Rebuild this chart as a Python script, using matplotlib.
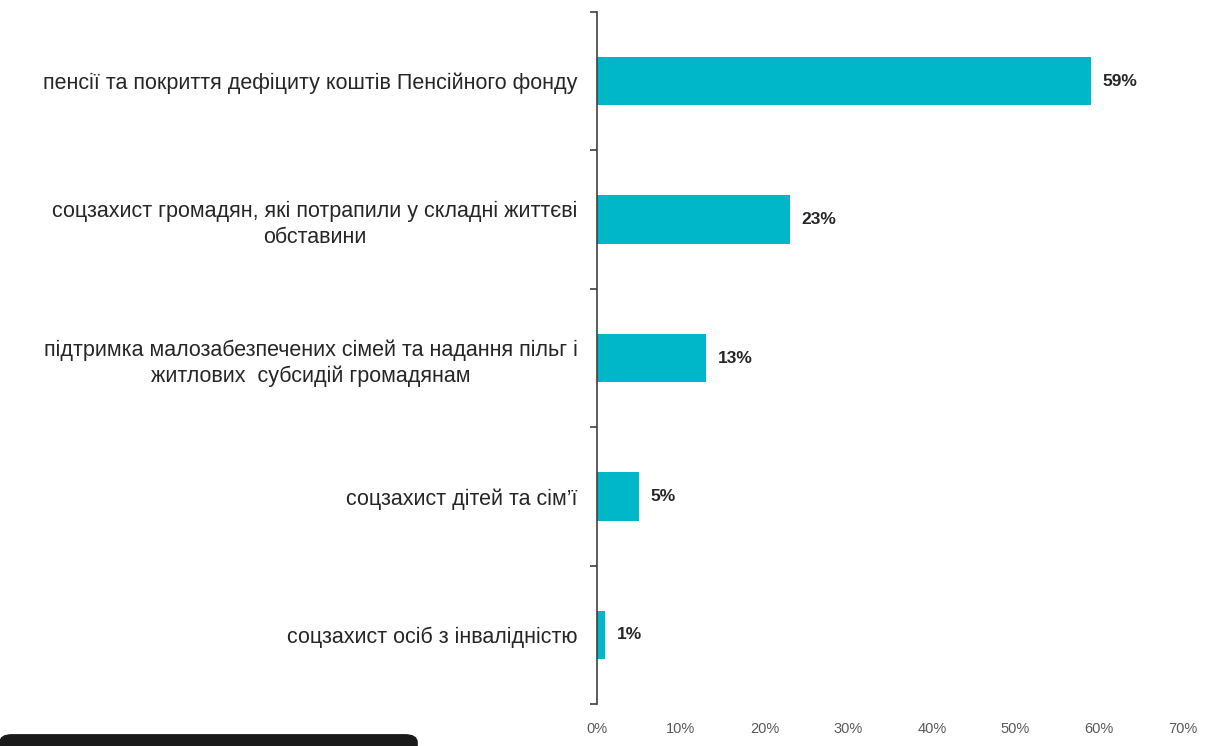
import matplotlib

matplotlib.use("Agg")
import matplotlib.pyplot as plt
import matplotlib.patches as mpatches
import numpy as np

plt.rcParams["font.family"] = ["Liberation Sans", "DejaVu Sans"]

CATEGORIES = [
    "пенсії та покриття дефіциту коштів Пенсійного фонду",
    "соцзахист громадян, які потрапили у складні життєві\nобставини",
    "підтримка малозабезпечених сімей та надання пільг і\nжитлових  субсидій громадянам",
    "соцзахист дітей та сім’ї",
    "соцзахист осіб з інвалідністю",
]
VALUES = [59, 23, 13, 5, 1]
XTICKS = [0, 10, 20, 30, 40, 50, 60, 70]

C_BAR = "#00B6C9"
C_TEXT = "#262626"
C_TICK = "#595959"


def main():
    fig = plt.figure(figsize=(12.09, 7.46), dpi=100)
    ax = fig.add_axes([0.4938, 0.0563, 0.4847, 0.9276])

    y = np.arange(len(CATEGORIES))
    ax.barh(y, VALUES, height=0.35, color=C_BAR, zorder=2)
    for yi, v in zip(y, VALUES):
        ax.text(v + 1.4, yi, f"{v}%", va="center", ha="left",
                fontsize=12.5, fontweight="bold", color=C_TEXT)

    ax.set_xlim(0, 70)
    ax.set_ylim(len(CATEGORIES) - 0.5, -0.5)
    ax.set_xticks(XTICKS)
    ax.set_xticklabels([f"{t}%" for t in XTICKS], fontsize=10.5, color=C_TICK)
    ax.tick_params(axis="x", length=0, pad=13)

    ax.set_yticks(y)
    ax.set_yticklabels(CATEGORIES, fontsize=15.5, color=C_TEXT)
    for lab in ax.get_yticklabels():
        lab.set_multialignment("center")
        lab.set_linespacing(1.3)
    ax.tick_params(axis="y", which="major", length=0, pad=14)
    ax.set_yticks(np.arange(len(CATEGORIES) + 1) - 0.5, minor=True)
    ax.tick_params(axis="y", which="minor", length=5, width=1.2, color="#404040")

    for s in ["top", "right", "bottom"]:
        ax.spines[s].set_visible(False)
    ax.spines["left"].set_color("#404040")
    ax.spines["left"].set_linewidth(1.2)

    fig.patches.append(mpatches.FancyBboxPatch(
        (0.0, -0.02), 0.345, 0.035, boxstyle="round,pad=0,rounding_size=0.01",
        transform=fig.transFigure, color="#1a1a1a", figure=fig))

    fig.savefig("out.png", dpi=100)
    plt.close(fig)


if __name__ == "__main__":
    main()
